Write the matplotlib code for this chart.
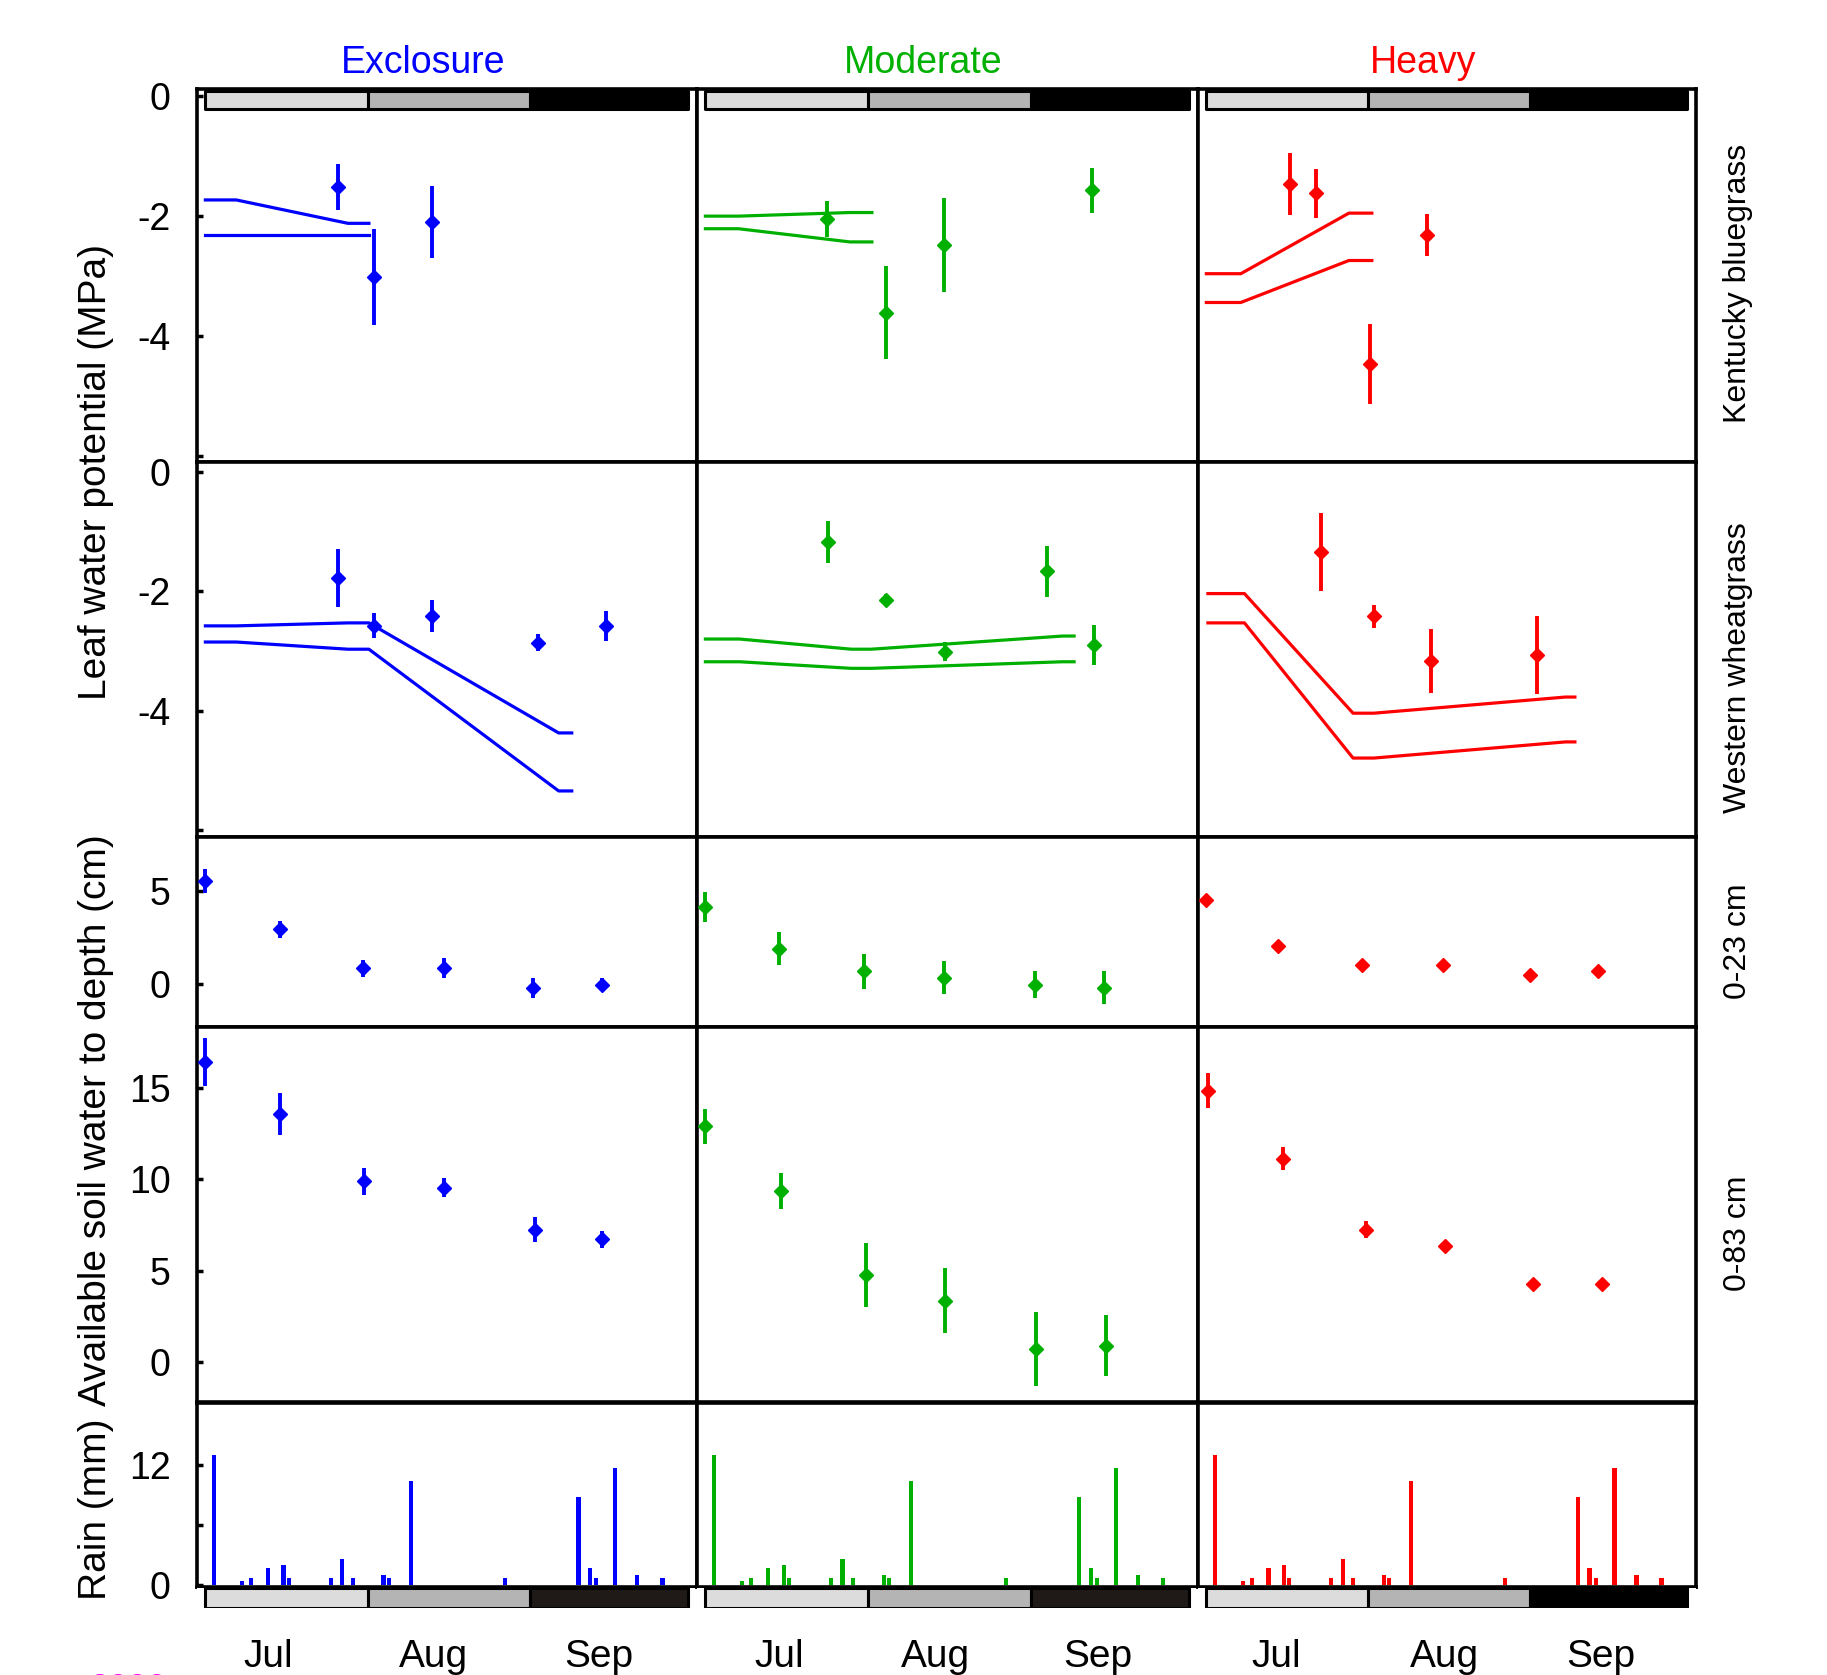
import matplotlib
matplotlib.use('Agg')
import matplotlib.pyplot as plt
import numpy as np

plt.rcParams['font.family'] = ['Liberation Sans', 'DejaVu Sans']

W, H = 1827, 1675
fig = plt.figure(figsize=(W / 100, H / 100), dpi=100)

# ---------------- data (x = days since 1 July) ----------------
treatments = ['Exclosure', 'Moderate', 'Heavy']
colors = ['#0000ff', '#00b000', '#ff0000']
months = ['Jul', 'Aug', 'Sep']
month_label_pos = [[12, 43.5, 75], [14, 43.8, 74.7], [13.3, 45.6, 75.6]]
season_start = [0, 31, 62]
season_len = [31, 31, 30]
season_colors_top = ['#dcdcdc', '#b4b4b4', '#000000']
season_colors_bottom = [['#dcdcdc', '#b4b4b4', '#1f1a17'],
                        ['#dcdcdc', '#b4b4b4', '#1f1a17'],
                        ['#dcdcdc', '#b4b4b4', '#000000']]

# Kentucky bluegrass leaf water potential (MPa)
kb_day = [[25.3, 32.2, 43.3], [23.2, 34.3, 45.4, 73.7], [16.1, 21.1, 31.4, 42.3]]
kb_mean = [[-1.51, -3.02, -2.10], [-2.05, -3.61, -2.48, -1.57], [-1.46, -1.62, -4.47, -2.32]]
kb_err = [[0.38, 0.80, 0.60], [0.30, 0.78, 0.78, 0.38], [0.52, 0.41, 0.67, 0.35]]
kb_env_day = [[0, 5.9, 27.2, 31.2], [0, 6.3, 27.5, 31.7], [0, 6.6, 27.3, 31.7]]
kb_env_upper = [[-1.73, -1.73, -2.12, -2.12], [-2.00, -2.00, -1.94, -1.94], [-2.96, -2.96, -1.95, -1.95]]
kb_env_lower = [[-2.32, -2.32, -2.32, -2.32], [-2.21, -2.21, -2.43, -2.43], [-3.44, -3.44, -2.74, -2.74]]

# Western wheatgrass leaf water potential (MPa)
ww_day = [[25.3, 32.2, 43.3, 63.4, 76.4], [23.3, 34.4, 45.7, 65.0, 74.0], [21.9, 32.2, 43.1, 63.4]]
ww_mean = [[-1.78, -2.58, -2.42, -2.86, -2.58], [-1.18, -2.15, -3.01, -1.67, -2.90], [-1.34, -2.42, -3.17, -3.07]]
ww_err = [[0.49, 0.21, 0.27, 0.14, 0.25], [0.35, 0.10, 0.16, 0.43, 0.33], [0.65, 0.19, 0.54, 0.65]]
ww_env_day = [[0, 5.9, 27.2, 31.2, 67.4, 69.9], [0, 6.5, 27.8, 31.6, 68.0, 70.2], [0.3, 7.3, 28.1, 32.1, 68.8, 70.6]]
ww_env_upper = [[-2.58, -2.58, -2.53, -2.53, -4.37, -4.37], [-2.80, -2.80, -2.97, -2.97, -2.75, -2.75],
                [-2.04, -2.04, -4.04, -4.04, -3.77, -3.77]]
ww_env_lower = [[-2.85, -2.85, -2.97, -2.97, -5.34, -5.34], [-3.18, -3.18, -3.29, -3.29, -3.18, -3.18],
                [-2.53, -2.53, -4.79, -4.79, -4.52, -4.52]]

# Available soil water 0-23 cm (cm)
s23_day = [[0, 14.2, 30.1, 45.5, 62.6, 75.7], [0, 14.1, 30.2, 45.4, 62.7, 75.9], [0, 13.7, 29.8, 45.3, 62.0, 75.1]]
s23_mean = [[5.54, 2.94, 0.86, 0.86, -0.20, -0.02], [4.16, 1.90, 0.68, 0.34, -0.02, -0.18],
            [4.50, 2.06, 1.02, 1.02, 0.50, 0.68]]
s23_err = [[0.65, 0.45, 0.45, 0.55, 0.53, 0.35], [0.80, 0.89, 0.96, 0.88, 0.70, 0.88],
           [0, 0, 0, 0, 0, 0]]

# Available soil water 0-83 cm (cm)
s83_day = [[0, 14.2, 30.2, 45.5, 62.8, 75.7], [0, 14.4, 30.6, 45.7, 63.0, 76.3], [0.4, 14.6, 30.5, 45.8, 62.6, 75.8]]
s83_mean = [[16.43, 13.60, 9.89, 9.55, 7.25, 6.72], [12.90, 9.36, 4.76, 3.36, 0.69, 0.88],
            [14.86, 11.14, 7.25, 6.37, 4.25, 4.25]]
s83_err = [[1.32, 1.15, 0.72, 0.54, 0.70, 0.47], [0.98, 0.98, 1.77, 1.77, 2.03, 1.68],
           [0.97, 0.62, 0.46, 0, 0, 0]]

# Daily rain (mm)
rain_day = [1.7, 7.0, 8.7, 11.9, 14.9, 15.9, 23.9, 26.1, 28.1, 34.0, 35.0, 39.2, 57.2, 71.2, 73.4, 74.6, 78.2, 82.4, 87.2]
rain_mm = [13.0, 0.4, 0.7, 1.7, 2.0, 0.7, 0.7, 2.6, 0.7, 1.0, 0.7, 10.4, 0.7, 8.8, 1.7, 0.7, 11.7, 1.0, 0.7]

# ---------------- layout (pixel boxes) ----------------
col_edges = [(197, 697), (697, 1198), (1198, 1696)]
row_edges = [(89, 462), (462, 837), (837, 1027), (1027, 1402), (1403, 1587)]
bar_edges = (1588, 1608)
XLIM = (-1.6, 93.8)


def px_axes(l, t, r, b):
    return fig.add_axes([l / W, 1 - b / H, (r - l) / W, (b - t) / H])


ylims = [(-6.1, 0.12), (-6.11, 0.16), (-2.3, 7.9), (-2.2, 18.35), (-0.2, 18.2)]
yticks = [[0, -2, -4, -6], [0, -2, -4, -6], [0, 5], [0, 5, 10, 15], [0, 6, 12]]
yticklabels = [['0', '-2', '-4', ''], ['0', '-2', '-4', ''], ['0', '5'], ['0', '5', '10', '15'], ['0', '', '12']]

for ci in range(3):
    c = colors[ci]
    l, r = col_edges[ci]
    axes = []
    for ri in range(5):
        t, b = row_edges[ri]
        ax = px_axes(l, t, r, b)
        ax.set_xlim(*XLIM)
        ax.set_ylim(*ylims[ri])
        ax.set_xticks([])
        ax.set_yticks(yticks[ri])
        if ci == 0:
            ax.set_yticklabels(yticklabels[ri])
            ax.tick_params(axis='y', direction='in', length=4, width=2.5, labelsize=27, pad=19)
        else:
            ax.set_yticklabels([])
            ax.tick_params(axis='y', length=0)
        for s in ax.spines.values():
            s.set_linewidth(2.6)
            s.set_color('black')
        axes.append(ax)

    errkw = dict(fmt='D', ms=7, color=c, ecolor=c, elinewidth=2.8, capsize=0, mec=c, mfc=c, zorder=3)
    # row 1
    ax = axes[0]
    ax.plot(kb_env_day[ci], kb_env_upper[ci], color=c, lw=2.3)
    ax.plot(kb_env_day[ci], kb_env_lower[ci], color=c, lw=2.3)
    ax.errorbar(kb_day[ci], kb_mean[ci], yerr=kb_err[ci], **errkw)
    ax.broken_barh(list(zip(season_start, season_len)), (0.946, 0.049),
                   transform=ax.get_xaxis_transform(), facecolors=season_colors_top,
                   edgecolor='black', linewidth=2.2, zorder=4)
    ax.set_xlim(*XLIM)
    ax.set_ylim(*ylims[0])
    # row 2
    ax = axes[1]
    ax.plot(ww_env_day[ci], ww_env_upper[ci], color=c, lw=2.3)
    ax.plot(ww_env_day[ci], ww_env_lower[ci], color=c, lw=2.3)
    ax.errorbar(ww_day[ci], ww_mean[ci], yerr=ww_err[ci], **errkw)
    # row 3
    axes[2].errorbar(s23_day[ci], s23_mean[ci], yerr=s23_err[ci], **errkw)
    # row 4
    axes[3].errorbar(s83_day[ci], s83_mean[ci], yerr=s83_err[ci], **errkw)
    # rain
    axes[4].bar(rain_day, rain_mm, width=0.8, color=c)
    for ax in axes:
        ax.set_xlim(*XLIM)

    # bottom season bar
    bax = px_axes(l, bar_edges[0], r, bar_edges[1])
    bax.set_xlim(*XLIM)
    bax.set_ylim(0, 1)
    bax.broken_barh(list(zip(season_start, season_len)), (0, 1),
                    facecolors=season_colors_bottom[ci], edgecolor='black', linewidth=2.2)
    for s in bax.spines.values():
        s.set_visible(False)
    bax.set_yticks([])
    bax.set_xticks(month_label_pos[ci])
    bax.set_xticklabels(months, fontsize=28, family=['Liberation Sans Narrow', 'Liberation Sans'])
    bax.tick_params(axis='x', length=0, pad=22)
    bax.set_xlim(*XLIM)

    # column title
    fig.text((l + r) / 2 / W - 24 / W, 1 - 73 / H, treatments[ci], color=c, fontsize=27,
             ha='center', va='baseline')

# axis labels
fig.text(96 / W, 1 - 472 / H, 'Leaf water potential (MPa)', rotation=90, ha='center', va='center', fontsize=28)
fig.text(96 / W, 1 - 1120 / H, 'Available soil water to depth (cm)', rotation=90, ha='center', va='center', fontsize=28)
fig.text(96 / W, 1 - 1509 / H, 'Rain (mm)', rotation=90, ha='center', va='center', fontsize=28)

right_labels = ['Kentucky bluegrass', 'Western wheatgrass', '0-23 cm', '0-83 cm']
right_label_y = [283, 668, 941, 1233]
for txt, yy in zip(right_labels, right_label_y):
    fig.text(1738 / W, 1 - yy / H, txt, rotation=90, ha='center', va='center', fontsize=23)

# year label, cut off at the bottom edge as in the reference
fig.text(128 / W, 1 - 1672 / H, '2000', color='#ff00ff', fontsize=25, ha='center', va='top')

fig.savefig('out.png', dpi=100)
